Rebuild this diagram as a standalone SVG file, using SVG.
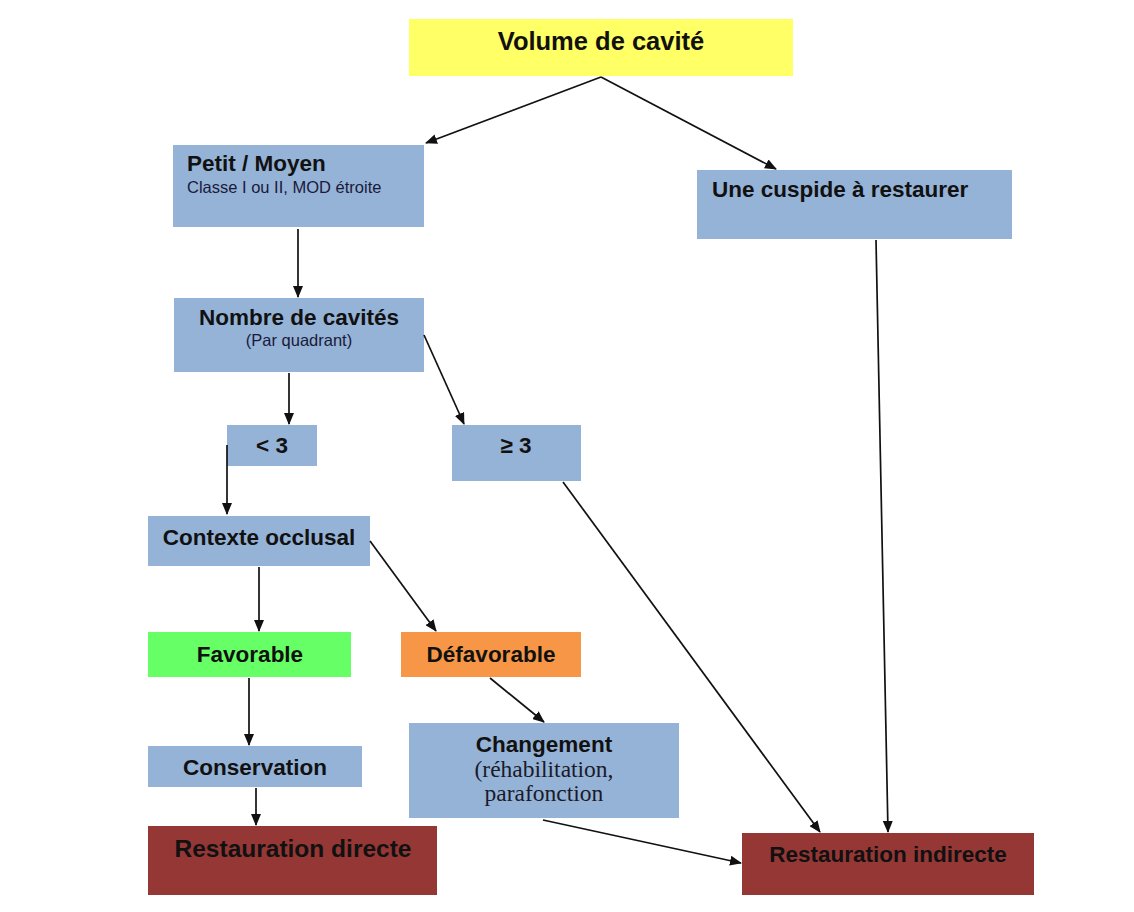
<svg xmlns="http://www.w3.org/2000/svg" width="1134" height="912" viewBox="0 0 1134 912">
<style>
.blue{fill:#95b3d7}
.red{fill:#953735}
.t{font-family:"Liberation Sans",Arial,sans-serif;font-weight:bold;fill:#111;font-size:22.5px}
.s{font-family:"Liberation Sans",Arial,sans-serif;fill:#1a1a3a;font-size:16.5px}
.serif{font-family:"Liberation Serif","Times New Roman",serif;fill:#1a1a2a;font-size:23.5px}
.c line{stroke:#111;stroke-width:1.7;marker-end:url(#ah)}
</style>
<defs>
<marker id="ah" viewBox="0 0 12 10" refX="11" refY="5" markerWidth="12" markerHeight="10" orient="auto" markerUnits="userSpaceOnUse">
<path d="M0,0 L12,5 L0,10 z" fill="#111"/>
</marker>
</defs>
<rect width="1134" height="912" fill="#fff"/>
<g id="n-volume"><rect x="409" y="19" width="384" height="57" fill="#ffff66"/><text class="t" x="601" y="50" style="font-size:25.5px" text-anchor="middle">Volume de cavité</text></g>
<g id="n-petit"><rect class="blue" x="173" y="145" width="251" height="82"/><text class="t" x="187" y="171">Petit / Moyen</text><text class="s" x="187" y="193">Classe I ou II, MOD étroite</text></g>
<g id="n-cuspide"><rect class="blue" x="697" y="170" width="315" height="69"/><text class="t" x="712" y="197">Une cuspide à restaurer</text></g>
<g id="n-nombre"><rect class="blue" x="174" y="298" width="250" height="74"/><text class="t" x="299" y="325" text-anchor="middle">Nombre de cavités</text><text class="s" x="299" y="346" text-anchor="middle">(Par quadrant)</text></g>
<g id="n-lt3"><rect class="blue" x="227" y="425" width="90" height="41"/><text class="t" x="272" y="453" text-anchor="middle">&lt; 3</text></g>
<g id="n-ge3"><rect class="blue" x="452" y="425" width="129" height="56"/><text class="t" x="516" y="453" text-anchor="middle">≥ 3</text></g>
<g id="n-contexte"><rect class="blue" x="148" y="516" width="222" height="50"/><text class="t" x="259" y="545" text-anchor="middle">Contexte occlusal</text></g>
<g id="n-favorable"><rect x="148" y="632" width="203" height="45" fill="#66ff66"/><text class="t" x="250" y="662" text-anchor="middle">Favorable</text></g>
<g id="n-defavorable"><rect x="401" y="632" width="180" height="45" fill="#f79646"/><text class="t" x="491" y="662" text-anchor="middle">Défavorable</text></g>
<g id="n-conservation"><rect class="blue" x="148" y="746" width="214" height="41"/><text class="t" x="255" y="775" text-anchor="middle">Conservation</text></g>
<g id="n-changement"><rect class="blue" x="409" y="723" width="270" height="95"/><text class="t" x="544" y="752" text-anchor="middle">Changement</text><text class="serif" x="544" y="777" text-anchor="middle">(réhabilitation,</text><text class="serif" x="544" y="801" text-anchor="middle">parafonction</text></g>
<g id="n-directe"><rect class="red" x="148" y="826" width="289" height="69"/><text class="t" x="293" y="857" style="font-size:24.5px" text-anchor="middle">Restauration directe</text></g>
<g id="n-indirecte"><rect class="red" x="742" y="833" width="292" height="62"/><text class="t" x="888" y="862" text-anchor="middle">Restauration indirecte</text></g>
<g id="connectors" class="c">
<line x1="601" y1="77" x2="426" y2="143"/>
<line x1="601" y1="77" x2="776" y2="169"/>
<line x1="298" y1="229" x2="298" y2="297"/>
<line x1="289" y1="373" x2="289" y2="424"/>
<line x1="424" y1="335" x2="464" y2="424"/>
<line x1="227" y1="445" x2="227" y2="514"/>
<line x1="259" y1="567" x2="259" y2="631"/>
<line x1="370" y1="541" x2="436" y2="631"/>
<line x1="249" y1="678" x2="249" y2="745"/>
<line x1="256" y1="788" x2="256" y2="825"/>
<line x1="490" y1="678" x2="544" y2="722"/>
<line x1="876" y1="240" x2="888" y2="832"/>
<line x1="563" y1="482" x2="820" y2="832"/>
<line x1="543" y1="820" x2="741" y2="863"/>
</g>
</svg>
